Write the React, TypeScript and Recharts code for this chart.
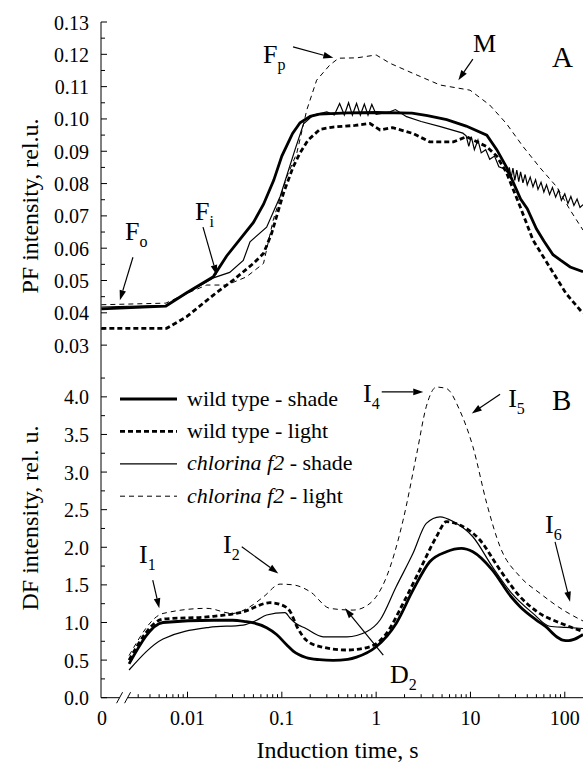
import React from "react";
import {
  LineChart,
  Line,
  XAxis,
  YAxis,
  ReferenceDot,
  ReferenceLine,
  Legend,
} from "recharts";

const FONT = '"Liberation Serif", "Times New Roman", Times, "DejaVu Serif", serif';
const TXT = { fontFamily: FONT };
const TICK_FS = 20;

// log time axis; the left edge is labelled "0"
const X_MIN = 0.00121;
const X_MAX = 156;
const X_BREAK = 0.0021;
const X_MAJOR = [0.01, 0.1, 1, 10, 100];
const X_MAJOR_LABELS = ["0.01", "0.1", "1", "10", "100"];
const X_MINOR = [
  0.003, 0.004, 0.005, 0.006, 0.007, 0.008, 0.009,
  0.02, 0.03, 0.04, 0.05, 0.06, 0.07, 0.08, 0.09,
  0.2, 0.3, 0.4, 0.5, 0.6, 0.7, 0.8, 0.9,
  2, 3, 4, 5, 6, 7, 8, 9,
  20, 30, 40, 50, 60, 70, 80, 90,
];

const PF_MAJOR = [0.03, 0.04, 0.05, 0.06, 0.07, 0.08, 0.09, 0.1, 0.11, 0.12, 0.13];
const PF_MINOR = [0.035, 0.045, 0.055, 0.065, 0.075, 0.085, 0.095, 0.105, 0.115, 0.125];
const DF_MAJOR = [0, 0.5, 1, 1.5, 2, 2.5, 3, 3.5, 4];
const DF_MINOR = [0.25, 0.75, 1.25, 1.75, 2.25, 2.75, 3.25, 3.75, 4.25];

type Pt = [number, number];

// panel A: prompt fluorescence
const pfWtShade: Pt[] = [
  [0.00122, 0.0412], [0.0059, 0.0421], [0.0098, 0.0462], [0.0188, 0.0512], [0.026, 0.0576],
  [0.05, 0.068], [0.064, 0.0736], [0.082, 0.081], [0.1, 0.0885], [0.13, 0.0955],
  [0.156, 0.0988], [0.2, 0.1008], [0.25, 0.1015], [0.5, 0.1019], [1, 0.102],
  [2.4, 0.1018], [3.5, 0.101], [5.6, 0.0998], [9, 0.0978], [14.9, 0.095],
  [19, 0.0905], [24, 0.0852], [34, 0.0752], [40, 0.0722], [50, 0.066],
  [60, 0.0622], [75, 0.058], [90, 0.0563], [114, 0.0542], [156, 0.0527],
];
const pfWtLight: Pt[] = [
  [0.00122, 0.0352], [0.006, 0.0352], [0.0098, 0.0388], [0.0188, 0.0455], [0.0305, 0.0501],
  [0.05, 0.0553], [0.064, 0.0584], [0.078, 0.0646], [0.104, 0.077], [0.132, 0.0852],
  [0.156, 0.0895], [0.19, 0.0935], [0.254, 0.0968], [0.35, 0.0975], [0.6, 0.098],
  [0.86, 0.0986], [1.1, 0.0966], [1.5, 0.0973], [2.46, 0.0955], [3.7, 0.0929],
  [6.6, 0.0929], [9.1, 0.0945], [14.9, 0.0914], [19, 0.0885], [24, 0.0835],
  [34, 0.0725], [46, 0.0625], [69, 0.0542], [103, 0.046], [156, 0.0398],
];
const pfChlShade: Pt[] = [
  [0.00122, 0.0418], [0.0059, 0.0423], [0.0098, 0.046], [0.0188, 0.0508], [0.028, 0.0525],
  [0.039, 0.0562], [0.046, 0.062], [0.069, 0.0665], [0.096, 0.076], [0.138, 0.0905],
  [0.17, 0.0985], [0.216, 0.1012], [0.3, 0.1022], [0.36, 0.1012], [0.41, 0.1048],
  [0.46, 0.1012], [0.51, 0.105], [0.56, 0.1012], [0.62, 0.1048], [0.68, 0.1012],
  [0.75, 0.1046], [0.82, 0.1012], [0.9, 0.1045], [1.0, 0.1014], [1.4, 0.1022],
  [1.6, 0.1029], [2.1, 0.1007], [3, 0.0992], [4.8, 0.0976], [8.3, 0.0956],
  [9, 0.0948], [9.6, 0.0915], [10.2, 0.0945], [11, 0.0905], [12, 0.0935],
  [13, 0.0895], [14.5, 0.0905], [16, 0.0875], [18, 0.0885], [20, 0.0852],
  [23, 0.0845], [25, 0.0832], [25.8, 0.085], [27, 0.0818], [28.2, 0.0848],
  [29.5, 0.081], [31, 0.0842], [32.5, 0.0806], [34, 0.0836], [36, 0.0802],
  [38, 0.0828], [40, 0.0796], [43, 0.082], [46, 0.079], [49, 0.0812],
  [52, 0.0782], [56, 0.0804], [60, 0.0774], [64, 0.0796], [69, 0.0766],
  [74, 0.0788], [80, 0.0758], [86, 0.078], [92, 0.0748], [100, 0.0768],
  [108, 0.0738], [116, 0.076], [125, 0.0732], [135, 0.0752], [145, 0.0726], [156, 0.0735],
];
const pfChlLight: Pt[] = [
  [0.00122, 0.0425], [0.0059, 0.043], [0.0098, 0.046], [0.016, 0.0486], [0.026, 0.0486],
  [0.042, 0.0511], [0.064, 0.0553], [0.081, 0.0687], [0.113, 0.0821], [0.144, 0.0894],
  [0.184, 0.1028], [0.234, 0.112], [0.323, 0.1167], [0.4, 0.1188], [0.62, 0.1189],
  [1.0, 0.1198], [1.41, 0.1172], [2.46, 0.1141], [4.76, 0.1105], [9.9, 0.1089],
  [16, 0.1043], [24, 0.0986], [36, 0.0915], [55, 0.0848], [82, 0.079],
  [114, 0.0718], [156, 0.0656],
];

// panel B: delayed fluorescence
const dfWtShade: Pt[] = [
  [0.0024, 0.45], [0.0055, 1.0], [0.0188, 1.03], [0.03, 1.03], [0.042, 1.01],
  [0.05, 0.995], [0.069, 0.93], [0.088, 0.84], [0.113, 0.7], [0.132, 0.62],
  [0.18, 0.535], [0.25, 0.505], [0.35, 0.495], [0.5, 0.51], [0.62, 0.54],
  [1.0, 0.678], [1.63, 0.988], [2.46, 1.43], [3.7, 1.807], [5.56, 1.94],
  [8, 1.985], [10.6, 1.94], [17, 1.7], [27, 1.342], [33.6, 1.21],
  [50, 1.033], [63, 0.944], [82, 0.81], [95, 0.767], [110, 0.76], [125, 0.775], [156, 0.84],
];
const dfWtLight: Pt[] = [
  [0.0024, 0.5], [0.0055, 1.045], [0.017, 1.077], [0.039, 1.143], [0.075, 1.263],
  [0.096, 1.24], [0.122, 1.15], [0.144, 0.95], [0.18, 0.77], [0.254, 0.68],
  [0.49, 0.634], [0.86, 0.678], [1.29, 0.856], [1.93, 1.254], [2.9, 1.697],
  [4.36, 2.14], [5.56, 2.34], [7.7, 2.295], [12.6, 2.096], [20.6, 1.697],
  [33.6, 1.342], [50, 1.15], [95, 0.98], [156, 0.88],
];
const dfChlShade: Pt[] = [
  [0.0024, 0.368], [0.0055, 0.78], [0.017, 0.935], [0.039, 0.966], [0.054, 1.03],
  [0.069, 1.099], [0.108, 1.13], [0.122, 1.06], [0.14, 0.99], [0.18, 0.92],
  [0.275, 0.81], [0.49, 0.81], [0.79, 0.877], [1.1, 1.033], [1.63, 1.475],
  [2.46, 1.919], [3.4, 2.317], [4.76, 2.405], [6.6, 2.34], [10.6, 2.14],
  [17.1, 1.741], [27.4, 1.387], [46, 1.121], [69, 0.95], [103, 0.935], [156, 0.92],
];
const dfChlLight: Pt[] = [
  [0.0024, 0.56], [0.0055, 1.12], [0.016, 1.188], [0.03, 1.12], [0.046, 1.21],
  [0.064, 1.342], [0.096, 1.51], [0.132, 1.5], [0.2, 1.409], [0.323, 1.188],
  [0.57, 1.165], [0.86, 1.254], [1.29, 1.608], [1.93, 2.36], [2.7, 3.25],
  [3.4, 3.87], [4.36, 4.13], [5.56, 4.11], [7.7, 3.82], [10.6, 3.34],
  [14.9, 2.58], [20.6, 2.007], [33.6, 1.608], [54.7, 1.387], [95, 1.17], [156, 1.02],
];

const SERIES = [
  { key: "wtShade", strain: "wild type", light: "shade", italic: false, width: 2.8, dash: undefined as string | undefined, pf: pfWtShade, df: dfWtShade },
  { key: "wtLight", strain: "wild type", light: "light", italic: false, width: 2.8, dash: "5 3", pf: pfWtLight, df: dfWtLight },
  { key: "chlShade", strain: "chlorina f2", light: "shade", italic: true, width: 1.2, dash: undefined, pf: pfChlShade, df: dfChlShade },
  { key: "chlLight", strain: "chlorina f2", light: "light", italic: true, width: 1, dash: "5 4", pf: pfChlLight, df: dfChlLight },
];

// annotations, in data units
const pfNotes = [
  { t: 0.00217, v: 0.0625, main: "F", sub: "o" },
  { t: 0.012, v: 0.0687, main: "F", sub: "i" },
  { t: 0.0632, v: 0.1173, main: "F", sub: "p" },
  { t: 10.67, v: 0.1207, main: "M", sub: "" },
  { t: 73.3, v: 0.1161, main: "A", sub: "" },
];
const pfArrows: { from: Pt; to: Pt }[] = [
  { from: [0.00264, 0.0572], to: [0.00192, 0.0439] },
  { from: [0.0146, 0.0665], to: [0.0204, 0.0517] },
  { from: [0.1315, 0.1223], to: [0.3515, 0.1189] },
  { from: [10.6, 0.1185], to: [7.44, 0.112] },
];
const dfNotes = [
  { t: 0.00306, v: 1.79, main: "I", sub: "1" },
  { t: 0.0238, v: 1.923, main: "I", sub: "2" },
  { t: 0.726, v: 3.93, main: "I", sub: "4" },
  { t: 25.1, v: 3.863, main: "I", sub: "5" },
  { t: 73.3, v: 3.823, main: "B", sub: "" },
  { t: 61.8, v: 2.189, main: "I", sub: "6" },
  { t: 1.403, v: 0.195, main: "D", sub: "2" },
];
const dfArrows: { from: Pt; to: Pt }[] = [
  { from: [0.00428, 1.564], to: [0.00502, 1.188] },
  { from: [0.0376, 2.007], to: [0.0918, 1.653] },
  { from: [1.146, 4.066], to: [3.16, 4.066] },
  { from: [20.6, 4.036], to: [10.33, 3.779] },
  { from: [78.9, 2.073], to: [113.7, 1.276] },
  { from: [1.19, 0.567], to: [0.468, 1.188] },
];

const toRows = (pts: Pt[]) => pts.map(([t, v]) => ({ t, v }));
const hit = (list: number[], v: number) =>
  list.findIndex((m) => Math.abs(m - v) < 1e-12 + 1e-9 * Math.abs(m));

const sortedX = (withLabels: boolean) =>
  [X_BREAK, ...X_MINOR, ...X_MAJOR, ...(withLabels ? [X_MIN] : [])].sort((a, b) => a - b);

const BreakMark = ({ cx, cy }: { cx: number; cy: number }) => (
  <g>
    <rect x={cx - 4} y={cy - 2} width={8} height={4} fill="#fff" />
    <line x1={cx - 7} y1={cy + 5.5} x2={cx - 1} y2={cy - 5.5} stroke="#000" strokeWidth={1} />
    <line x1={cx + 1} y1={cy + 5.5} x2={cx + 7} y2={cy - 5.5} stroke="#000" strokeWidth={1} />
  </g>
);

const makeXTick = (labels: boolean) => (p: any) => {
  const { x, y, payload } = p;
  const v = payload.value;
  if (Math.abs(v - X_BREAK) < 1e-12) return <BreakMark cx={x} cy={y} />;
  if (Math.abs(v - X_MIN) < 1e-12)
    return (
      <text x={x + 1} y={y + 27} textAnchor="middle" style={TXT} fontSize={TICK_FS} fill="#000">
        0
      </text>
    );
  const i = hit(X_MAJOR, v);
  if (i < 0) return <line x1={x} y1={y} x2={x} y2={y - 3.5} stroke="#000" />;
  return (
    <g>
      <line x1={x} y1={y} x2={x} y2={y - 6} stroke="#000" />
      {labels && (
        <text x={x} y={y + 27} textAnchor="middle" style={TXT} fontSize={TICK_FS} fill="#000">
          {X_MAJOR_LABELS[i]}
        </text>
      )}
    </g>
  );
};

const TopTick = (p: any) => {
  const { x, y, payload } = p;
  if (Math.abs(payload.value - X_BREAK) < 1e-12) return <BreakMark cx={x} cy={y} />;
  return <g />;
};

const makeYTick = (majors: number[], digits: number) => (p: any) => {
  const { x, y, payload } = p;
  const major = hit(majors, payload.value) >= 0;
  return (
    <g>
      <line x1={x} y1={y} x2={x + (major ? 6 : 4)} y2={y} stroke="#000" />
      {major && (
        <text x={x - 12} y={y + 7.5} textAnchor="end" style={TXT} fontSize={TICK_FS} fill="#000">
          {payload.value.toFixed(digits)}
        </text>
      )}
    </g>
  );
};

const ArrowShape = (p: any) => {
  const { x1, y1, x2, y2 } = p;
  const a = Math.atan2(y2 - y1, x2 - x1);
  const L = 10;
  const W = 3.3;
  const bx = x2 - L * Math.cos(a);
  const by = y2 - L * Math.sin(a);
  const pts = `${x2},${y2} ${bx + W * Math.sin(a)},${by - W * Math.cos(a)} ${bx - W * Math.sin(a)},${by + W * Math.cos(a)}`;
  return (
    <g>
      <line x1={x1} y1={y1} x2={bx} y2={by} stroke="#000" strokeWidth={1.2} />
      <polygon points={pts} fill="#000" />
    </g>
  );
};

const noteShape = (main: string, sub: string) => (p: any) => (
  <text x={p.cx} y={p.cy} style={TXT} fontSize={main === "A" || main === "B" ? 29 : 26} fill="#000">
    {main}
    {sub && (
      <tspan dy={7} fontSize={16}>
        {sub}
      </tspan>
    )}
  </text>
);

const LegendBox = () => (
  <svg width={270} height={130} style={{ display: "block", overflow: "visible" }}>
    {SERIES.map((s, i) => {
      const y = 17 + i * 32.4;
      return (
        <g key={s.key}>
          <line x1={2} x2={59} y1={y} y2={y} stroke="#000" strokeWidth={s.width} strokeDasharray={s.dash} />
          <text x={69} y={y + 6.5} style={TXT} fontSize={22} fill="#000">
            <tspan fontStyle={s.italic ? "italic" : "normal"}>{s.strain}</tspan>
            <tspan>{" - " + s.light}</tspan>
          </text>
        </g>
      );
    })}
  </svg>
);

export default function App() {
  return (
    <div style={{ position: "absolute", left: 0, top: 0, width: 583, height: 765, background: "#fff", fontFamily: FONT }}>
      <div style={{ position: "absolute", left: 0, top: 0 }}>
        <LineChart width={583} height={361} margin={{ top: 22, right: 0, bottom: 1, left: 0 }}>
          <XAxis
            dataKey="t"
            type="number"
            scale="log"
            domain={[X_MIN, X_MAX]}
            allowDataOverflow
            ticks={sortedX(false)}
            interval={0}
            height={0}
            tickSize={0}
            tickMargin={0}
            tickLine={false}
            axisLine={{ stroke: "#000" }}
            tick={makeXTick(false)}
          />
          <XAxis
            xAxisId="top"
            orientation="top"
            dataKey="t"
            type="number"
            scale="log"
            domain={[X_MIN, X_MAX]}
            allowDataOverflow
            ticks={[X_BREAK]}
            interval={0}
            height={0}
            tickSize={0}
            tickMargin={0}
            tickLine={false}
            axisLine={{ stroke: "#000" }}
            tick={TopTick}
          />
          <YAxis
            type="number"
            domain={[0.0254, 0.13]}
            allowDataOverflow
            ticks={[...PF_MAJOR, ...PF_MINOR]}
            interval={0}
            width={101}
            tickSize={0}
            tickMargin={0}
            tickLine={false}
            axisLine={{ stroke: "#000" }}
            tick={makeYTick(PF_MAJOR, 2)}
            label={{
              content: () => (
                <text
                  x={30}
                  y={206}
                  transform="rotate(-90 30 206)"
                  textAnchor="middle"
                  dominantBaseline="central"
                  style={TXT}
                  fontSize={24}
                  fill="#000"
                >
                  PF intensity, rel.u.
                </text>
              ),
            }}
          />
          {SERIES.map((s) => (
            <Line
              key={s.key}
              data={toRows(s.pf)}
              dataKey="v"
              type="linear"
              stroke="#000"
              strokeWidth={s.width}
              strokeDasharray={s.dash}
              dot={false}
              isAnimationActive={false}
            />
          ))}
          {pfArrows.map((a, i) => (
            <ReferenceLine
              key={"pa" + i}
              segment={[{ x: a.from[0], y: a.from[1] }, { x: a.to[0], y: a.to[1] }]}
              ifOverflow="visible"
              shape={ArrowShape}
            />
          ))}
          {pfNotes.map((n, i) => (
            <ReferenceDot key={"pn" + i} x={n.t} y={n.v} r={1} ifOverflow="visible" shape={noteShape(n.main, n.sub)} />
          ))}
        </LineChart>
      </div>
      <div style={{ position: "absolute", left: 0, top: 360 }}>
        <LineChart width={583} height={405} margin={{ top: 0, right: 0, bottom: 0, left: 0 }}>
          <XAxis
            dataKey="t"
            type="number"
            scale="log"
            domain={[X_MIN, X_MAX]}
            allowDataOverflow
            ticks={sortedX(true)}
            interval={0}
            height={67.3}
            tickSize={0}
            tickMargin={0}
            tickLine={false}
            axisLine={{ stroke: "#000" }}
            tick={makeXTick(true)}
            label={{
              content: () => (
                <text x={337.5} y={398} textAnchor="middle" style={TXT} fontSize={24} fill="#000">
                  Induction time, s
                </text>
              ),
            }}
          />
          <YAxis
            type="number"
            domain={[0, 4.49]}
            allowDataOverflow
            ticks={[...DF_MAJOR, ...DF_MINOR]}
            interval={0}
            width={101}
            tickSize={0}
            tickMargin={0}
            tickLine={false}
            axisLine={{ stroke: "#000" }}
            tick={makeYTick(DF_MAJOR, 1)}
            label={{
              content: () => (
                <text
                  x={30}
                  y={158}
                  transform="rotate(-90 30 158)"
                  textAnchor="middle"
                  dominantBaseline="central"
                  style={TXT}
                  fontSize={24}
                  fill="#000"
                >
                  DF intensity, rel. u.
                </text>
              ),
            }}
          />
          <Legend
            layout="vertical"
            align="center"
            verticalAlign="middle"
            wrapperStyle={{ left: 118, top: 22, width: 270, height: 130 }}
            content={() => <LegendBox />}
          />
          {SERIES.map((s) => (
            <Line
              key={s.key}
              data={toRows(s.df)}
              dataKey="v"
              name={s.strain + " - " + s.light}
              type="monotone"
              stroke="#000"
              strokeWidth={s.width}
              strokeDasharray={s.dash}
              dot={false}
              isAnimationActive={false}
            />
          ))}
          {dfArrows.map((a, i) => (
            <ReferenceLine
              key={"da" + i}
              segment={[{ x: a.from[0], y: a.from[1] }, { x: a.to[0], y: a.to[1] }]}
              ifOverflow="visible"
              shape={ArrowShape}
            />
          ))}
          {dfNotes.map((n, i) => (
            <ReferenceDot key={"dn" + i} x={n.t} y={n.v} r={1} ifOverflow="visible" shape={noteShape(n.main, n.sub)} />
          ))}
        </LineChart>
      </div>
    </div>
  );
}
